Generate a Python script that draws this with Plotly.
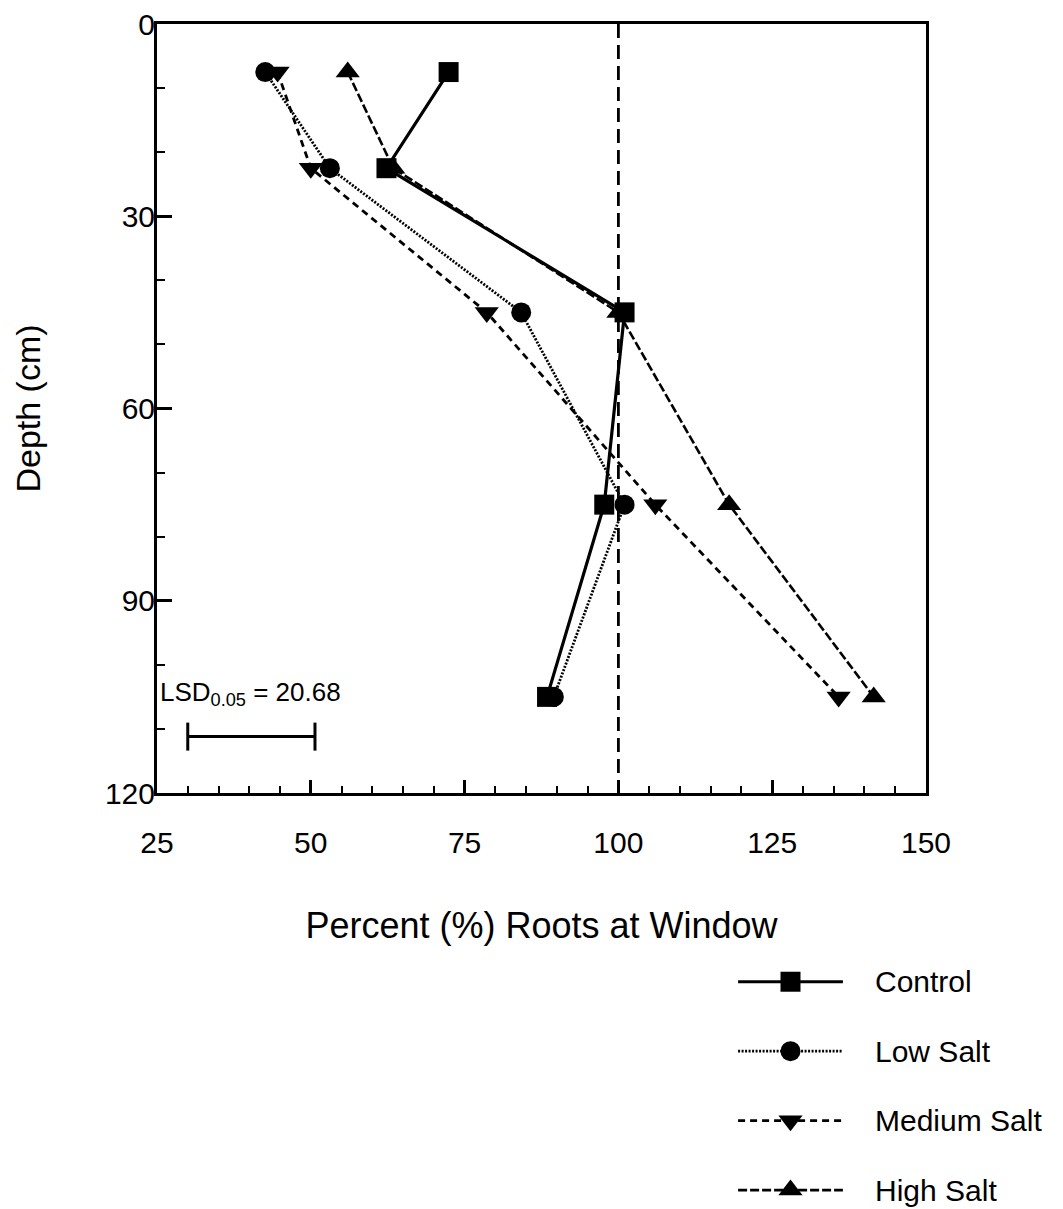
import plotly.graph_objects as go

# Root distribution by depth for four salinity treatments
depth_cm = [7.5, 22.5, 45, 75, 105]
control = [72.4, 62.3, 101.0, 97.7, 88.4]
low_salt = [42.6, 53.1, 84.2, 101.0, 89.5]
medium_salt = [44.6, 50.0, 78.6, 106.0, 135.8]
high_salt = [56.0, 63.4, 100.0, 118.0, 141.5]

series_names = ["Control", "Low Salt", "Medium Salt", "High Salt"]
series_values = [control, low_salt, medium_salt, high_salt]

x_ticks = [25, 50, 75, 100, 125, 150]
y_ticks = [0, 30, 60, 90, 120]

reference_pct = 100          # vertical reference line
lsd_value = 20.68            # LSD(0.05)
lsd_start = 30
lsd_depth = 111.2

W, H = 1063, 1209
FONT = "Liberation Sans, Arial, Helvetica, sans-serif"

styles = {
    "Control": dict(dash="solid", width=3.2, symbol="square", size=20),
    "Low Salt": dict(dash="2px,1.5px", width=2.8, symbol="circle", size=20),
    "Medium Salt": dict(dash="7px,5px", width=2.8, symbol="triangle-down", size=21),
    "High Salt": dict(dash="9px,3px", width=2.6, symbol="triangle-up", size=21),
}

fig = go.Figure()

# Reference line at 100 %
fig.add_trace(go.Scatter(
    x=[reference_pct, reference_pct], y=[y_ticks[0], y_ticks[-1]],
    mode="lines", line=dict(color="black", width=2.8, dash="14px,7px"),
    hoverinfo="skip", showlegend=False,
))

for name, vals in zip(series_names, series_values):
    st = styles[name]
    fig.add_trace(go.Scatter(
        x=vals, y=depth_cm, mode="lines+markers", name=name,
        line=dict(color="black", width=st["width"], dash=st["dash"]),
        marker=dict(symbol=st["symbol"], size=st["size"], color="black",
                    line=dict(width=0)),
        showlegend=False,
    ))

# LSD bar with end caps
fig.add_trace(go.Scatter(
    x=[lsd_start, lsd_start + lsd_value], y=[lsd_depth, lsd_depth],
    mode="lines+markers",
    line=dict(color="black", width=3),
    marker=dict(symbol="line-ns-open", size=20, line=dict(color="black", width=3)),
    hoverinfo="skip", showlegend=False,
))

fig.add_annotation(
    x=x_ticks[0], y=104.4, xref="x", yref="y", xanchor="left", yanchor="middle",
    xshift=1, text="LSD<sub>0.05</sub> = 20.68", showarrow=False,
    font=dict(family=FONT, size=26, color="black"),
)

# Hand-built legend on its own small axes (long line samples)
for i, name in enumerate(series_names):
    st = styles[name]
    fig.add_trace(go.Scatter(
        x=[0, 1], y=[i, i], mode="lines",
        line=dict(color="black", width=st["width"], dash=st["dash"]),
        xaxis="x2", yaxis="y2", hoverinfo="skip", showlegend=False,
    ))
    fig.add_trace(go.Scatter(
        x=[0.5], y=[i], mode="markers",
        marker=dict(symbol=st["symbol"], size=st["size"], color="black",
                    line=dict(width=0)),
        xaxis="x2", yaxis="y2", hoverinfo="skip", showlegend=False,
    ))
    fig.add_annotation(
        x=1, y=i, xref="x2", yref="y2", xanchor="left", yanchor="middle",
        xshift=30, text=name, showarrow=False,
        font=dict(family=FONT, size=30, color="black"),
    )

axis_common = dict(
    showgrid=False, zeroline=False, showline=True, linecolor="black",
    linewidth=3, mirror=True, ticks="inside", tickcolor="black",
    tickwidth=2.5, automargin=False,
    tickfont=dict(family=FONT, size=30, color="black"),
)

fig.update_layout(
    template="none",
    width=W, height=H,
    margin=dict(l=0, r=0, t=0, b=0, pad=0),
    paper_bgcolor="white", plot_bgcolor="white",
    showlegend=False,
    xaxis=dict(
        domain=[157 / W, 926 / W], range=[25, 150],
        tickvals=x_ticks, ticklen=13, ticklabelstandoff=21,
        minor=dict(dtick=5, tick0=25, ticks="inside", ticklen=7,
                   tickwidth=2, tickcolor="black"),
        title=dict(text="Percent (%) Roots at Window", standoff=55,
                   font=dict(family=FONT, size=36, color="black")),
        **axis_common,
    ),
    yaxis=dict(
        domain=[1 - 793 / H, 1 - 24 / H], range=[120, 0],
        tickvals=y_ticks, ticklen=15, ticklabelstandoff=-7,
        minor=dict(dtick=10, tick0=0, ticks="inside", ticklen=8,
                   tickwidth=2, tickcolor="black"),
        title=dict(text="Depth (cm)", standoff=55,
                   font=dict(family=FONT, size=34, color="black")),
        **axis_common,
    ),
    xaxis2=dict(domain=[736 / W, 845 / W], range=[-0.02, 1.02],
                visible=False, fixedrange=True, anchor="y2"),
    yaxis2=dict(domain=[1 - 1204 / H, 1 - 947 / H], range=[3.2, -0.5],
                visible=False, fixedrange=True, anchor="x2"),
)

fig.write_html("out.html")
